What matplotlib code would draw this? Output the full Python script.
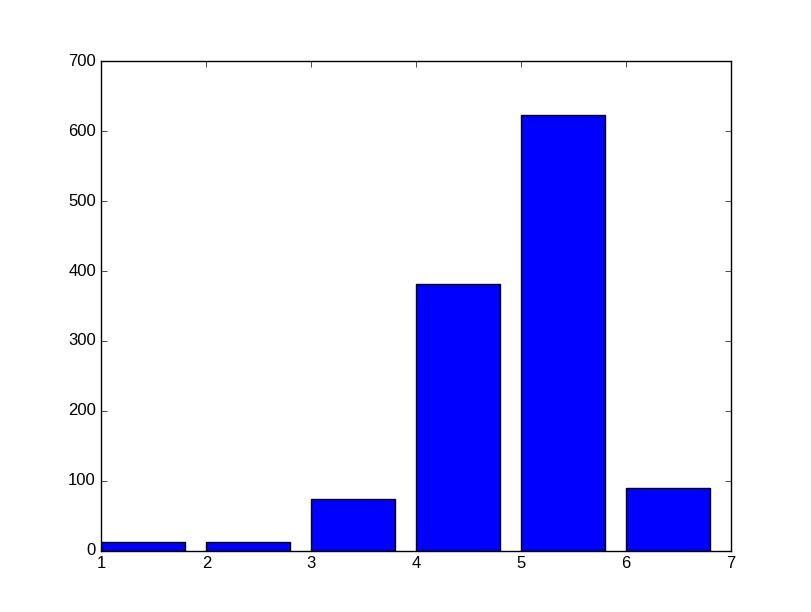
import matplotlib
matplotlib.use("Agg")
import matplotlib.pyplot as plt

# bar values
positions = [1, 2, 3, 4, 5, 6]
counts = [13, 13, 74, 381, 623, 90]

plt.style.use('classic')
plt.rcParams['font.family'] = ['Liberation Sans', 'DejaVu Sans']
plt.rcParams['font.size'] = 12

fig = plt.figure(figsize=(8.12, 6.12), dpi=100)
ax = fig.add_subplot(111)

ax.bar(positions, counts, width=0.8, align='edge', color='blue', edgecolor='black')

ax.set_xlim(1, 7)
ax.set_ylim(0, 700)

fig.savefig('out.png', dpi=100)
